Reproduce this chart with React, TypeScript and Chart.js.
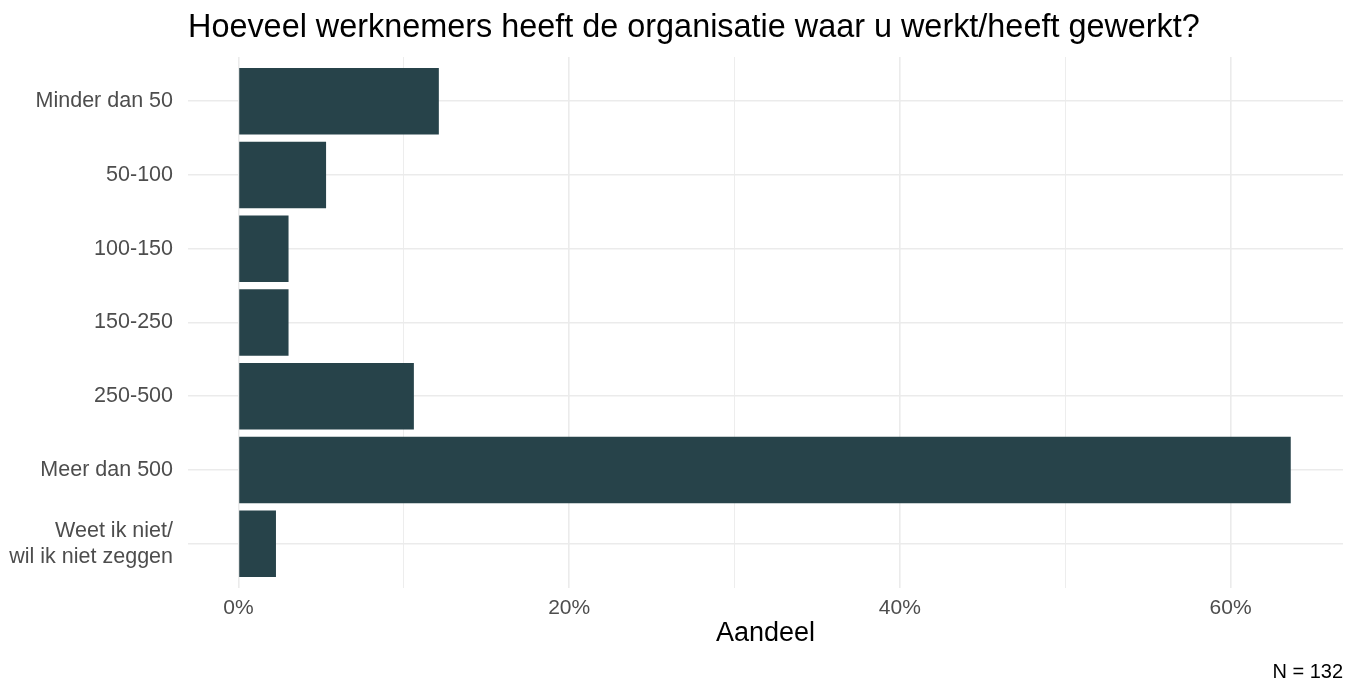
import React, { useEffect, useRef } from "react";
import { Chart, registerables } from "chart.js";

Chart.register(...registerables);

const categories: (string | string[])[] = [
  "Minder dan 50",
  "50-100",
  "100-150",
  "150-250",
  "250-500",
  "Meer dan 500",
  ["Weet ik niet/", "wil ik niet zeggen"],
];
const shares: number[] = [12.12, 5.3, 3.03, 3.03, 10.61, 63.64, 2.27];
const xTicks: number[] = [0, 10, 20, 30, 40, 50, 60];
const titleText = "Hoeveel werknemers heeft de organisatie waar u werkt/heeft gewerkt?";
const xTitle = "Aandeel";
const caption = "N = 132";

const FONT = "'Liberation Sans', Arial, Helvetica, sans-serif";

export default function App() {
  const ref = useRef<HTMLCanvasElement | null>(null);

  useEffect(() => {
    if (!ref.current) return;
    const textPlugin = {
      id: "textPlugin",
      afterDraw(chart: any) {
        const ctx = chart.ctx;
        const area = chart.chartArea;
        ctx.save();
        ctx.fillStyle = "#000000";
        ctx.font = `32.4px ${FONT}`;
        ctx.textAlign = "left";
        ctx.textBaseline = "alphabetic";
        ctx.fillText(titleText, area.left, 37);
        ctx.font = `20px ${FONT}`;
        ctx.textAlign = "right";
        ctx.fillText(caption, chart.width - 2, 678);
        ctx.restore();
      },
    };

    const chart = new Chart(ref.current, {
      type: "bar",
      data: {
        datasets: [
          {
            data: shares.map((v, i) => ({ x: v, y: i })),
            backgroundColor: "#27434a",
            borderWidth: 0,
            barPercentage: 1,
            categoryPercentage: 0.9,
          },
        ],
      },
      options: {
        indexAxis: "y",
        animation: false,
        responsive: false,
        maintainAspectRatio: false,
        layout: { padding: { top: 57, right: 2, left: 0, bottom: 0 } },
        plugins: {
          legend: { display: false },
          title: { display: false },
          tooltip: { enabled: false },
        },
        scales: {
          y: {
            type: "linear",
            reverse: true,
            offset: false,
            min: -0.6,
            max: 6.6,
            afterBuildTicks: (scale: any) => {
              scale.ticks = categories.map((_, i) => ({ value: i }));
            },
            afterFit: (scale: any) => {
              scale.width = 188;
            },
            border: { display: false },
            grid: {
              color: "#ebebeb",
              lineWidth: 1.6,
              drawTicks: false,
              offset: false,
            },
            ticks: {
              padding: 15,
              color: "#4d4d4d",
              font: { family: FONT, size: 21.5 },
              callback: (v: any) => categories[v as number] ?? "",
              autoSkip: false,
            },
          },
          x: {
            type: "linear",
            min: -3.05,
            max: 66.8,
            afterBuildTicks: (scale: any) => {
              scale.ticks = xTicks.map((v) => ({ value: v }));
            },
            afterFit: (scale: any) => {
              scale.height = 93;
            },
            border: { display: false },
            grid: {
              color: "#ebebeb",
              lineWidth: (c: any) => (c.tick && c.tick.value % 20 === 0 ? 1.6 : 0.9),
              drawTicks: false,
            },
            ticks: {
              padding: 8,
              color: "#4d4d4d",
              font: { family: FONT, size: 21 },
              autoSkip: false,
              maxRotation: 0,
              callback: (v: any) => ((v as number) % 20 === 0 ? `${v}%` : ""),
            },
            title: {
              display: true,
              text: xTitle,
              color: "#000000",
              font: { family: FONT, size: 27 },
              padding: { top: 0, bottom: 31 },
            },
          },
        },
      },
      plugins: [textPlugin],
    });
    return () => chart.destroy();
  }, []);

  return (
    <div style={{ position: "fixed", left: 0, top: 0, width: 1345, height: 681, background: "#ffffff" }}>
      <canvas ref={ref} width={1345} height={681} style={{ width: 1345, height: 681, display: "block" }} />
    </div>
  );
}
